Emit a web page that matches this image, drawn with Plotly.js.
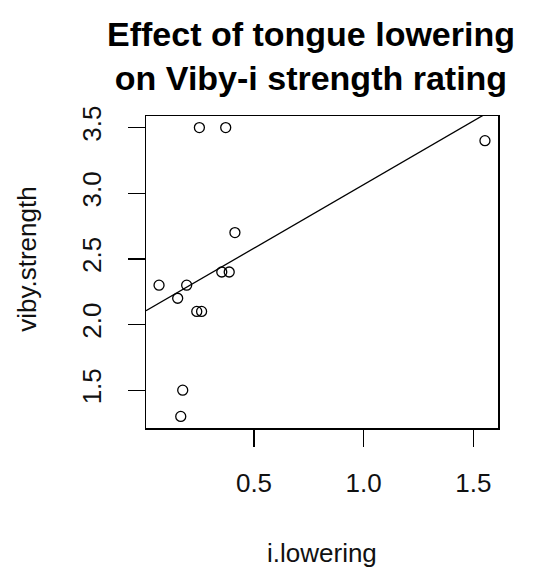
<!DOCTYPE html>
<html>
<head>
<meta charset="utf-8">
<script src="https://cdn.plot.ly/plotly-3.0.1.min.js"></script>
<style>html,body{margin:0;padding:0;background:#fff;}#chart{width:539px;height:570px;}</style>
</head>
<body>
<div id="chart"></div>
<script>
// Data
var iLowering = [0.251, 0.371, 1.553, 0.413, 0.353, 0.387, 0.067, 0.193, 0.152, 0.239, 0.261, 0.175, 0.166];
var vibyStrength = [3.5, 3.5, 3.4, 2.7, 2.4, 2.4, 2.3, 2.3, 2.2, 2.1, 2.1, 1.5, 1.3];
var xTicks = [0.5, 1.0, 1.5];
var yTicks = [1.5, 2.0, 2.5, 3.0, 3.5];
var titleText = "Effect of tongue lowering<br>on Viby-i strength rating";
var xLabel = "i.lowering";
var yLabel = "viby.strength";

// R-style axis ranges (data range extended by 4%)
function rRange(a) {
  var lo = Math.min.apply(null, a), hi = Math.max.apply(null, a), d = (hi - lo) * 0.04;
  return [lo - d, hi + d];
}
var xr = rRange(iLowering), yr = rRange(vibyStrength);

// Least-squares fit (abline of lm)
var n = iLowering.length, mx = 0, my = 0;
for (var i = 0; i < n; i++) { mx += iLowering[i]; my += vibyStrength[i]; }
mx /= n; my /= n;
var sxy = 0, sxx = 0;
for (i = 0; i < n; i++) { sxy += (iLowering[i] - mx) * (vibyStrength[i] - my); sxx += (iLowering[i] - mx) * (iLowering[i] - mx); }
var slope = sxy / sxx, intercept = my - slope * mx;

var fnt = "Liberation Sans, Arial, sans-serif";

var traces = [
  {
    x: iLowering, y: vibyStrength, type: "scatter", mode: "markers",
    marker: {symbol: "circle-open", size: 10, color: "#000", line: {width: 1.3, color: "#000"}},
    hoverinfo: "x+y", showlegend: false
  },
  {
    x: [xr[0], xr[1]], y: [intercept + slope * xr[0], intercept + slope * xr[1]],
    type: "scatter", mode: "lines", line: {color: "#000", width: 1.3},
    hoverinfo: "skip", showlegend: false
  }
];

var layout = {
  width: 539, height: 570,
  margin: {l: 146, r: 41, t: 116, b: 142, pad: 0},
  paper_bgcolor: "#fff", plot_bgcolor: "#fff",
  font: {family: fnt, color: "#111"},
  xaxis: {
    range: xr, autorange: false,
    tickmode: "array", tickvals: xTicks, ticktext: xTicks.map(function(v){return v.toFixed(1);}),
    ticks: "outside", ticklen: 17, tickwidth: 1.3, tickcolor: "#000",
    showline: true, linecolor: "#000", linewidth: 1.5, mirror: true,
    showgrid: false, zeroline: false,
    tickfont: {family: fnt, size: 26, color: "#111"},
    ticklabelstandoff: 14
  },
  yaxis: {
    range: yr, autorange: false,
    tickmode: "array", tickvals: yTicks, ticktext: yTicks.map(function(v){return v.toFixed(1);}),
    tickangle: -90,
    ticks: "outside", ticklen: 17, tickwidth: 1.3, tickcolor: "#000",
    showline: true, linecolor: "#000", linewidth: 1.5, mirror: true,
    showgrid: false, zeroline: false,
    tickfont: {family: fnt, size: 26, color: "#111"},
    ticklabelstandoff: 16
  },
  annotations: [
    {text: titleText, xref: "paper", yref: "paper", x: 0.47, y: 1.33, xanchor: "center", yanchor: "top",
     showarrow: false, align: "center", font: {family: fnt, size: 34, weight: 700, color: "#000"}},
    {text: xLabel, xref: "paper", yref: "paper", x: 0.5, y: -0.40, xanchor: "center", yanchor: "middle",
     showarrow: false, font: {family: fnt, size: 26, color: "#111"}},
    {text: yLabel, xref: "paper", yref: "paper", x: -0.34, y: 0.54, xanchor: "center", yanchor: "middle",
     textangle: -90, showarrow: false, font: {family: fnt, size: 26, color: "#111"}}
  ]
};

Plotly.newPlot("chart", traces, layout, {displayModeBar: false, staticPlot: true});
</script>
</body>
</html>
